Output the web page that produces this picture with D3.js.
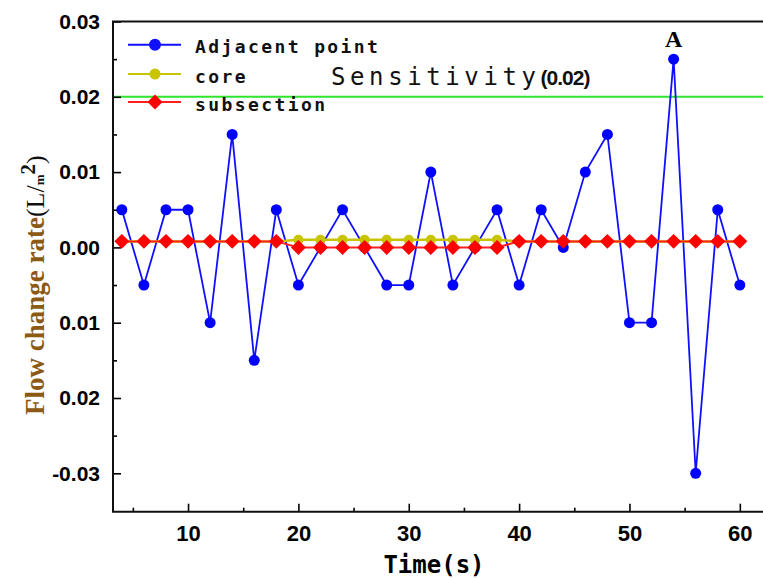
<!DOCTYPE html>
<html>
<head>
<meta charset="utf-8">
<script src="https://cdn.jsdelivr.net/npm/d3@7"></script>
<style>
  body { margin: 0; background: #fff; }
  svg { display: block; }
</style>
</head>
<body>
<div id="chart"></div>
<script>
const times = [4, 6, 8, 10, 12, 14, 16, 18, 20, 22, 24, 26, 28, 30, 32, 34, 36, 38, 40, 42, 44, 46, 48, 50, 52, 54, 56, 58, 60];
const adjacent = [0.005, -0.005, 0.005, 0.005, -0.01, 0.015, -0.015, 0.005, -0.005, 0, 0.005, 0, -0.005, -0.005, 0.01, -0.005, 0, 0.005, -0.005, 0.005, 0, 0.01, 0.015, -0.01, -0.01, 0.025, -0.03, 0.005, -0.005];
const core = [0.0008, 0.0008, 0.0008, 0.0008, 0.0008, 0.0008, 0.0008, 0.0008, 0.001, 0.001, 0.001, 0.001, 0.001, 0.001, 0.001, 0.001, 0.001, 0.001, 0.0008, 0.0008, 0.0008, 0.0008, 0.0008, 0.0008, 0.0008, 0.0008, 0.0008, 0.0008, 0.0008];
const subsection = [0.0008, 0.0008, 0.0008, 0.0008, 0.0008, 0.0008, 0.0008, 0.0008, 0, 0, 0, 0, 0, 0, 0, 0, 0, 0, 0.0008, 0.0008, 0.0008, 0.0008, 0.0008, 0.0008, 0.0008, 0.0008, 0.0008, 0.0008, 0.0008];
const sensitivity = 0.02;

const xTicks = [10, 20, 30, 40, 50, 60];
const xMinor = [5, 15, 25, 35, 45, 55];
const yTicks = [0.03, 0.02, 0.01, 0, -0.01, -0.02, -0.03];
const yTickLabels = ["0.03", "0.02", "0.01", "0.00", "0.01", "0.02", "-0.03"];
const yMinor = [0.025, 0.015, 0.005, -0.005, -0.015, -0.025];

const seriesNames = ["Adjacent point", "core", "subsection"];

const width = 763, height = 578;
const plotLeft = 113, plotTop = 21.5, plotBottom = 511.7, plotRight = 763;

const svg = d3.select('#chart').append('svg')
    .attr('width', width)
    .attr('height', height);

const x = d3.scaleLinear().domain([3.2, 62.1]).range([plotLeft, plotRight]);
const y = d3.scaleLinear().domain([-0.0351, 0.03]).range([plotBottom, plotTop]);

// sensitivity line
svg.append('line')
    .attr('x1', plotLeft).attr('x2', plotRight)
    .attr('y1', y(sensitivity)).attr('y2', y(sensitivity))
    .attr('stroke', '#2ee62e')
    .attr('stroke-width', 2);

// axes
const xAxis = svg.append('g')
    .attr('transform', `translate(0,${plotBottom})`)
    .call(d3.axisBottom(x).tickValues(xTicks).tickSizeInner(-8).tickSizeOuter(0).tickPadding(14).tickFormat(d3.format('d')));
svg.append('g')
    .attr('transform', `translate(0,${plotBottom})`)
    .call(d3.axisBottom(x).tickValues(xMinor).tickSizeInner(-4).tickSizeOuter(0).tickFormat(''));

const yAxis = svg.append('g')
    .attr('transform', `translate(${plotLeft},0)`)
    .call(d3.axisLeft(y).tickValues(yTicks).tickSizeInner(-8).tickSizeOuter(0).tickPadding(13)
        .tickFormat((d, i) => yTickLabels[i]));
svg.append('g')
    .attr('transform', `translate(${plotLeft},0)`)
    .call(d3.axisLeft(y).tickValues(yMinor).tickSizeInner(-4).tickSizeOuter(0).tickFormat(''));

svg.selectAll('.domain').remove();
svg.selectAll('.tick line').attr('stroke', '#000').attr('stroke-width', 1.6);

xAxis.selectAll('text')
    .style('font-family', '"Liberation Sans", Arial, sans-serif')
    .style('font-weight', 'bold')
    .style('font-size', '22px')
    .attr('fill', '#000');
yAxis.selectAll('text')
    .style('font-family', '"Liberation Sans", Arial, sans-serif')
    .style('font-weight', 'bold')
    .style('font-size', '21px')
    .attr('fill', '#000');

// frame
svg.append('path')
    .attr('d', `M${plotRight + 5},${plotTop}H${plotLeft}V${plotBottom}H${plotRight + 5}`)
    .attr('fill', 'none')
    .attr('stroke', '#111')
    .attr('stroke-width', 2);

const line = d3.line().x(d => x(d[0])).y(d => y(d[1]));

// Adjacent point
const adjData = times.map((t, i) => [t, adjacent[i]]);
svg.append('path').datum(adjData)
    .attr('d', line).attr('fill', 'none')
    .attr('stroke', '#1010ff').attr('stroke-width', 1.8);
svg.selectAll('.adj').data(adjData).enter().append('circle')
    .attr('class', 'adj')
    .attr('cx', d => x(d[0])).attr('cy', d => y(d[1]))
    .attr('r', 5.5).attr('fill', '#0000ff');

// core
const coreData = times.map((t, i) => [t, core[i]]);
svg.append('path').datum(coreData)
    .attr('d', line).attr('fill', 'none')
    .attr('stroke', '#c8c400').attr('stroke-width', 2.5);
svg.selectAll('.core').data(coreData).enter().append('circle')
    .attr('class', 'core')
    .attr('cx', d => x(d[0])).attr('cy', d => y(d[1]))
    .attr('r', 5).attr('fill', '#c8c400');

// subsection
const diamond = d3.symbol().type(d3.symbolSquare).size(112);
const subData = times.map((t, i) => [t, subsection[i]]);
svg.append('path').datum(subData)
    .attr('d', line).attr('fill', 'none')
    .attr('stroke', '#ff2020').attr('stroke-width', 2);
svg.selectAll('.sub').data(subData).enter().append('path')
    .attr('class', 'sub')
    .attr('d', diamond)
    .attr('transform', d => `translate(${x(d[0])},${y(d[1])}) rotate(45)`)
    .attr('fill', '#ff0000');

// legend
const legendColors = ['#1010ff', '#c8c400', '#ff2020'];
const legendY = [44.7, 74, 102];
const legend = svg.append('g');
seriesNames.forEach((name, i) => {
    const ly = legendY[i];
    legend.append('line')
        .attr('x1', 128).attr('x2', 181).attr('y1', ly).attr('y2', ly)
        .attr('stroke', legendColors[i]).attr('stroke-width', 2);
    if (i === 2) {
        legend.append('path').attr('d', diamond)
            .attr('transform', `translate(155,${ly}) rotate(45)`)
            .attr('fill', '#ff0000');
    } else {
        legend.append('circle').attr('cx', 155).attr('cy', ly)
            .attr('r', i === 0 ? 6 : 5.5).attr('fill', legendColors[i]);
    }
    legend.append('text')
        .attr('x', 195).attr('y', ly + 8.5)
        .style('font-family', '"DejaVu Sans Mono", monospace')
        .style('font-weight', 'bold')
        .style('font-size', '18px')
        .style('letter-spacing', '2.4px')
        .attr('fill', '#111')
        .text(name);
});

// sensitivity label
const sens = svg.append('text')
    .attr('x', 331).attr('y', 85)
    .attr('fill', '#111');
sens.append('tspan')
    .style('font-family', '"DejaVu Sans Mono", monospace')
    .style('font-size', '24px')
    .style('letter-spacing', '4.6px')
    .text('Sensitivity');
sens.append('tspan')
    .style('font-family', '"Liberation Sans", Arial, sans-serif')
    .style('font-weight', 'bold')
    .style('font-size', '21px')
    .style('letter-spacing', '-1px')
    .text('(0.02)');

// peak label
svg.append('text')
    .attr('x', x(times[25])).attr('y', 46.5)
    .attr('text-anchor', 'middle')
    .style('font-family', '"Liberation Serif", serif')
    .style('font-weight', 'bold')
    .style('font-size', '24px')
    .attr('fill', '#000')
    .text('A');

// x title
svg.append('text')
    .attr('x', 434).attr('y', 573)
    .attr('text-anchor', 'middle')
    .style('font-family', '"DejaVu Sans Mono", monospace')
    .style('font-weight', 'bold')
    .style('font-size', '24px')
    .attr('fill', '#000')
    .text('Time(s)');

// y title
const yTitle = svg.append('text')
    .attr('transform', 'translate(44,415) rotate(-90)')
    .attr('x', 0).attr('y', 0)
    .style('font-family', '"Liberation Serif", serif')
    .style('font-size', '27px');
yTitle.append('tspan')
    .style('font-weight', 'bold')
    .attr('fill', '#8b5a14')
    .text('Flow change rate');
yTitle.append('tspan').attr('fill', '#111').style('font-size', '26px').text('(L/');
yTitle.append('tspan').attr('fill', '#111').style('font-size', '13px').style('font-weight', 'bold').text('m');
yTitle.append('tspan').attr('fill', '#111').style('font-size', '21px').style('font-weight', 'bold')
    .attr('dy', -9).text('2');
yTitle.append('tspan').attr('fill', '#111').style('font-size', '26px').attr('dy', 9).text(')');
</script>
</body>
</html>
